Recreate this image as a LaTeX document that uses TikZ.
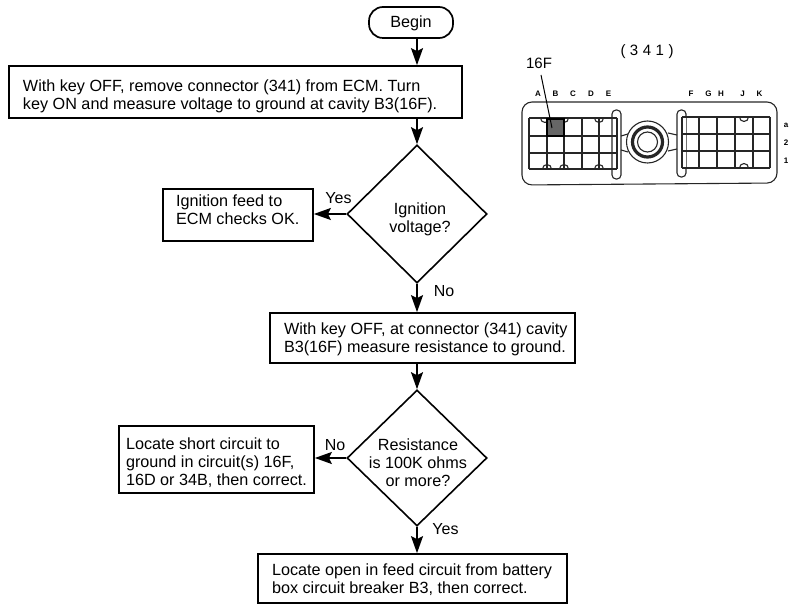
\documentclass[tikz,border=0pt]{standalone}
\usepackage{fontspec}
\setmainfont{Liberation Sans}
\usetikzlibrary{arrows.meta,shapes.geometric}
\newcommand\linesat[4]{\makebox[#1pt][l]{\hspace{#2pt}\raisebox{#3pt}[0pt][0pt]{\begin{tabular}[c]{@{}l@{}}#4\end{tabular}}}}
\newcommand\midlines[3]{\makebox[0pt]{\hspace{#1pt}\raisebox{#2pt}[0pt][0pt]{\begin{tabular}[c]{@{}c@{}}#3\end{tabular}}}}
\tikzset{
 every node/.style={font=\fontsize{16.2}{18}\selectfont,inner sep=0pt},
 box/.style={draw,line width=1.7pt,anchor=center,fill=white},
 dec/.style={draw,line width=1.6pt,diamond,aspect=1},
 arr/.style={line width=1.7pt,-{Stealth[length=17pt,width=12pt,inset=3pt]}},
 lbl/.style={font=\fontsize{16}{18}\selectfont},
 pin/.style={font=\fontsize{8}{9}\selectfont\bfseries},
 thin1/.style={line width=1.1pt,draw=black!85},
}
\renewcommand\arraystretch{1}
\setlength\tabcolsep{0pt}
\begin{document}
\begin{tikzpicture}[x=1pt,y=-1pt]
\useasboundingbox (0,0) rectangle (800,612);
\node[box,rounded corners=14pt,minimum width=84pt,minimum height=31pt] (begin) at (411,22.5) {\raisebox{-5pt}[0pt][0pt]{Begin}};
\node[box,minimum width=453pt,minimum height=52pt] (b1) at (235.5,92) {\linesat{453}{14}{-9}{With key OFF, remove connector (341) from ECM. Turn\\key ON and measure voltage to ground at cavity B3(16F).}};
\node[dec,minimum width=140pt,minimum height=138pt] (d1) at (417,214) {\midlines{6}{-10}{Ignition\\voltage?}};
\node[box,minimum width=150pt,minimum height=52pt] (ok) at (238,215) {\linesat{150}{13}{-1}{Ignition feed to\\ECM checks OK.}};
\node[box,minimum width=305pt,minimum height=50pt] (b2) at (422.5,338) {\linesat{305}{14}{-6}{With key OFF, at connector (341) cavity\\B3(16F) measure resistance to ground.}};
\node[dec,minimum width=140pt,minimum height=136pt] (d2) at (417,458) {\midlines{2}{-11}{Resistance\\is 100K ohms\\or more?}};
\node[box,minimum width=195pt,minimum height=67pt] (short) at (216.5,459.5) {\linesat{195}{7}{-8.5}{Locate short circuit to\\ground in circuit(s) 16F,\\16D or 34B, then correct.}};
\node[box,minimum width=309pt,minimum height=49pt] (open) at (412.5,578.5) {\linesat{309}{14}{-7}{Locate open in feed circuit from battery\\box circuit breaker B3, then correct.}};
\draw[arr] (begin.south -| d1.north) -- (b1.north -| d1.north);
\draw[arr] (b1.south -| d1.north) -- (d1.north);
\draw[arr] (d1.west) -- (d1.west -| ok.east);
\draw[arr] (d1.south) -- (b2.north -| d1.south);
\draw[arr] (b2.south -| d2.north) -- (d2.north);
\draw[arr] (d2.west) -- (d2.west -| short.east);
\draw[arr] (d2.south) -- (open.north -| d2.south);
\node[lbl] (yes1) at (338.5,198) {Yes};
\node[lbl] (no1) at (444,291) {No};
\node[lbl] (no2) at (335,445) {No};
\node[lbl] (yes2) at (445.5,529) {Yes};
% connector
\node[font=\fontsize{15}{17}\selectfont\addfontfeature{LetterSpace=30}] (title) at (647,52) {(341)};
\node[font=\fontsize{15}{17}\selectfont] (f16) at (539,63) {16F};
\draw[thin1,rounded corners=10pt] (522,140) -- (522,185) -- (777,183) -- (777,102) -- (522,102) -- cycle;
\foreach \x in {545,564,599}{\draw[thin1] (\x-4.5,118) arc[start angle=180,end angle=0,radius=4.5];}
\foreach \x in {547,564,599}{\draw[thin1] (\x-4.5,169) arc[start angle=180,end angle=360,radius=4.5];}
\draw[thin1] (744-4.5,117) arc[start angle=180,end angle=0,radius=4.5];
\draw[thin1] (744-4.5,168) arc[start angle=180,end angle=360,radius=4.5];
\draw[thin1,rounded corners=4pt] (612,110) rectangle (621,179);
\draw[thin1,rounded corners=4pt] (677,110) rectangle (686,177);
\draw[thin1] (621,136) -- (628,134) (621,150) -- (628,152) (677,135) -- (668,133) (677,149) -- (668,151);
\fill[white] (612.5,118) rectangle (617,169);
\fill[white] (682,117) rectangle (685.5,168);
\foreach \x in {529,547,564,582,599,617}{\draw[thin1] (\x,118) -- (\x,169);}
\foreach \y in {118,136,153,169}{\draw[thin1] (529,\y) -- (617,\y);}
\foreach \x in {682,699,717,735,753,770}{\draw[thin1] (\x,117) -- (\x,168);}
\foreach \y in {117,134,151,168}{\draw[thin1] (682,\y) -- (770,\y);}
\draw[fill=black!60,line width=1.8pt] (547,119) rectangle (564,136);
\draw[line width=1pt] (541,75) -- (552,128);
\draw[thin1,fill=white] (647.5,142) circle[radius=21];
\draw[line width=3.2pt,draw=black!85,fill=white] (647.5,142) circle[radius=15];
\draw[thin1,fill=white] (647.5,142) circle[radius=10];
\foreach \t/\x in {A/538,B/555.5,C/573,D/591,E/608.5,F/691,G/708.5,H/721,J/742.5,K/759.5}{\node[pin] (pin\t) at (\x,94) {\t};}
\node[pin] (ra) at (786,125) {a};
\node[pin] (r2) at (786,143) {2};
\node[pin] (r1) at (786,161) {1};
\end{tikzpicture}
\end{document}
